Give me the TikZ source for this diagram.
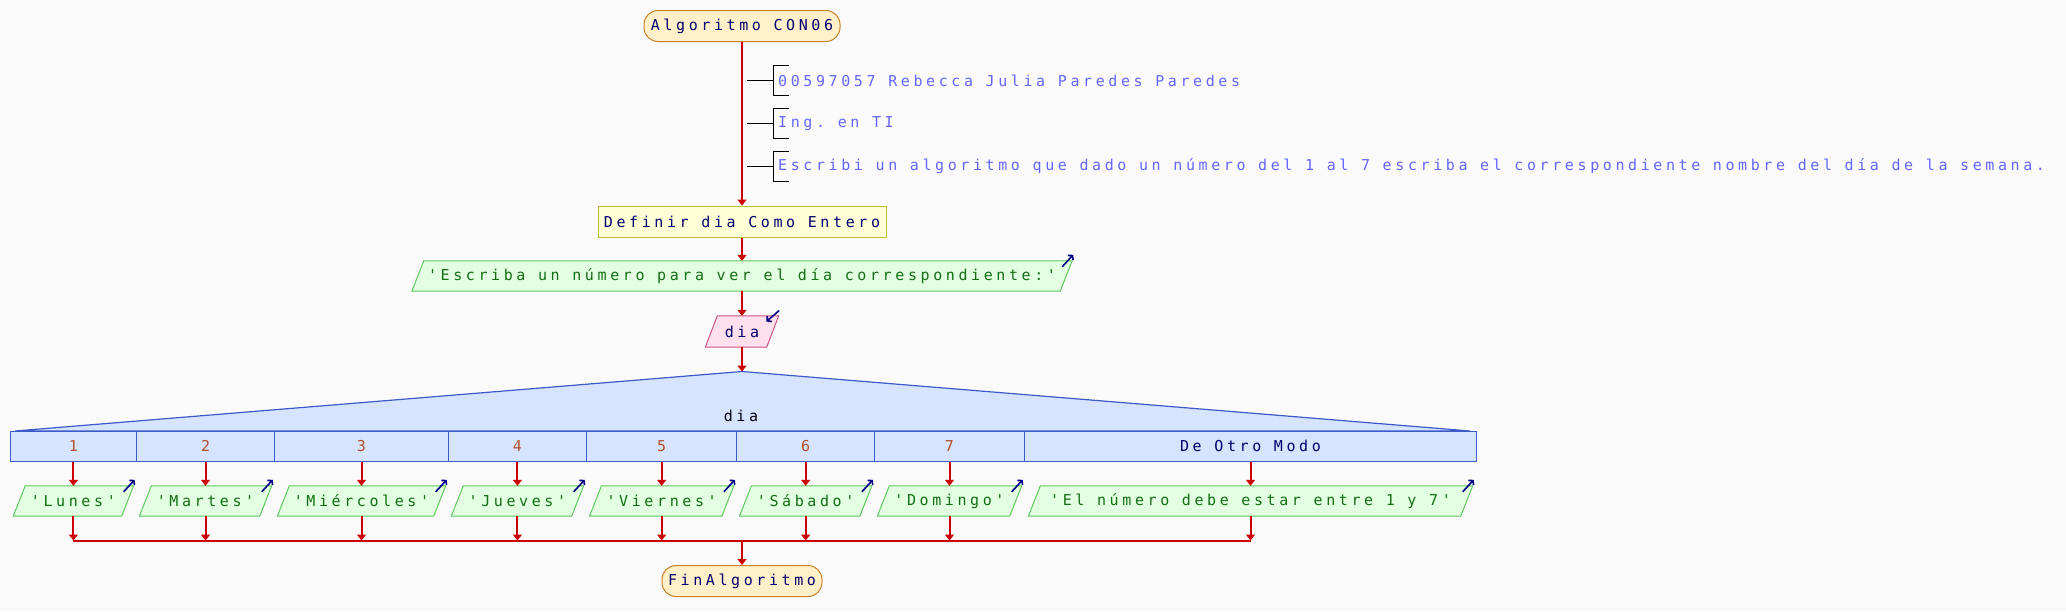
\documentclass[tikz,border=0pt]{standalone}
\usepackage{fontspec}
\setmonofont{DejaVu Sans Mono}[LetterSpace=24]
\usetikzlibrary{arrows.meta}
\pgfdeclarelayer{background}
\pgfsetlayers{background,main}
\definecolor{bgc}{RGB}{250,250,250}
\definecolor{termf}{RGB}{255,240,202}
\definecolor{termb}{RGB}{200,130,40}
\definecolor{procf}{RGB}{255,255,215}
\definecolor{procb}{RGB}{190,190,50}
\definecolor{outf}{RGB}{226,255,226}
\definecolor{outb}{RGB}{95,200,95}
\definecolor{inf}{RGB}{255,224,236}
\definecolor{inb}{RGB}{205,85,135}
\definecolor{swf}{RGB}{214,228,255}
\definecolor{swb}{RGB}{60,90,200}
\definecolor{flowred}{RGB}{204,0,0}
\definecolor{navytext}{RGB}{0,0,110}
\definecolor{navyarrow}{RGB}{0,0,128}
\definecolor{outtext}{RGB}{20,110,20}
\definecolor{casenum}{RGB}{180,80,40}
\definecolor{commc}{RGB}{102,102,255}
\newcommand\drawpgram[3]{%
  \begin{pgfonlayer}{background}
  \draw[line width=1pt, draw=#3, fill=#2]
    ([xshift=6pt]#1.north west) -- ([xshift=6pt]#1.north east)
    -- ([xshift=-6pt]#1.south east) -- ([xshift=-6pt]#1.south west) -- cycle;
  \end{pgfonlayer}}
\newcommand\outind[1]{%
  \draw[ioarrow] ([xshift=-4pt,yshift=-6pt]#1.north east) -- ([xshift=7pt,yshift=6pt]#1.north east);}
\newcommand\commbracket[1]{%
  \draw[bracket] ([xshift=-31pt]#1.west) -- ([xshift=-5pt]#1.west);
  \draw[bracket] ([xshift=11pt,yshift=15pt]#1.west) -- ([xshift=-5pt,yshift=15pt]#1.west)
    -- ([xshift=-5pt,yshift=-15pt]#1.west) -- ([xshift=11pt,yshift=-15pt]#1.west);}
\tikzset{
  every node/.style={font=\ttfamily\fontsize{15}{18}\selectfont, inner sep=0pt},
  termbox/.style={draw=termb, fill=termf, line width=1pt, rounded corners=14pt, minimum height=31pt, text=navytext},
  procbox/.style={draw=procb, fill=procf, line width=1pt, minimum height=31pt, text=navytext},
  iobox/.style={minimum height=30pt, text=outtext},
  inbox/.style={minimum height=31pt, text=navytext},
  casecell/.style={draw=swb, fill=swf, line width=1pt, minimum height=30pt, text=casenum},
  flow/.style={draw=flowred, line width=2pt, -{Triangle[width=9pt,length=6pt]}},
  flowline/.style={draw=flowred, line width=2pt},
  ioarrow/.style={draw=navyarrow, line width=1.6pt, -{Straight Barb[length=3pt,width=7pt]}},
  commtext/.style={text=commc, anchor=west},
  bracket/.style={draw=black, line width=1pt},
}
\begin{document}
\begin{tikzpicture}[x=1pt,y=-1pt]
\begin{pgfonlayer}{background}
\fill[bgc] (0,0) rectangle (2066,611);
\end{pgfonlayer}
\useasboundingbox (0,0) rectangle (2066,611);

% start
\node[termbox, minimum width=196pt] (start) at (742,26) {Algoritmo CON06};
% comments
\node[commtext] (c1) at (778,80.5) {00597057 Rebecca Julia Paredes Paredes};
\node[commtext] (c2) at (778,123.5) {Ing. en TI};
\node[commtext] (c3) at (778,166.5) {Escribi un algoritmo que dado un número del 1 al 7 escriba el correspondiente nombre del día de la semana.};
\commbracket{c1}
\commbracket{c2}
\commbracket{c3}
% define
\node[procbox, minimum width=288pt] (def) at (742,221.5) {Definir dia Como Entero};
% output
\node[iobox, minimum width=648pt] (o0) at (742,276) {'Escriba un número para ver el día correspondiente:'};
\drawpgram{o0}{outf}{outb}
\outind{o0}
% input
\node[inbox, minimum width=61pt] (inp) at (742,331.5) {dia};
\drawpgram{inp}{inf}{inb}
\draw[ioarrow] ([xshift=6.5pt,yshift=5.3pt]inp.north east) -- ([xshift=-6.3pt,yshift=-5.7pt]inp.north east);
% switch
\coordinate (apex) at (742,371.5);
\draw[fill=swf, draw=swb, line width=1.2pt] (apex) -- (15,431) -- (1470,431) -- cycle;
\node[text=black] (swl) at (741,416) {dia};
\node[casecell, minimum width=126pt] (k1) at (73.4,446) {1};
\node[casecell, minimum width=138.3pt] (k2) at (205.55,446) {2};
\node[casecell, minimum width=173.6pt] (k3) at (361.5,446) {3};
\node[casecell, minimum width=138.3pt] (k4) at (517.45,446) {4};
\node[casecell, minimum width=150.1pt] (k5) at (661.65,446) {5};
\node[casecell, minimum width=137.9pt] (k6) at (805.65,446) {6};
\node[casecell, minimum width=149.8pt] (k7) at (949.5,446) {7};
\node[casecell, minimum width=452.2pt, text=navytext] (k8) at (1250.5,446) {De Otro Modo};
% case outputs
\node[iobox, minimum width=108pt] (b1) at (73.4,501) {'Lunes'};
\node[iobox, minimum width=120pt] (b2) at (205.55,501) {'Martes'};
\node[iobox, minimum width=156pt] (b3) at (361.5,501) {'Miércoles'};
\node[iobox, minimum width=120pt] (b4) at (517.45,501) {'Jueves'};
\node[iobox, minimum width=132pt] (b5) at (661.65,501) {'Viernes'};
\node[iobox, minimum width=120pt] (b6) at (805.65,501) {'Sábado'};
\node[iobox, minimum width=132pt] (b7) at (949.5,501) {'Domingo'};
\node[iobox, minimum width=432pt] (b8) at (1250.5,501) {'El número debe estar entre 1 y 7'};
\foreach \i in {1,...,8}{\drawpgram{b\i}{outf}{outb}\outind{b\i}}
% join coordinates
\coordinate (j1) at (73.4,540.5);
\coordinate (j2) at (205.55,540.5);
\coordinate (j3) at (361.5,540.5);
\coordinate (j4) at (517.45,540.5);
\coordinate (j5) at (661.65,540.5);
\coordinate (j6) at (805.65,540.5);
\coordinate (j7) at (949.5,540.5);
\coordinate (j8) at (1250.5,540.5);
\coordinate (jm) at (742,540.5);
% end
\node[termbox, minimum width=160pt] (fin) at (742,581) {FinAlgoritmo};
% connectors
\draw[flow] (start.south) -- (def.north);
\draw[flow] (def.south) -- (o0.north);
\draw[flow] (o0.south) -- (inp.north);
\draw[flow] (inp.south) -- (apex);
\foreach \i in {1,...,8}{
  \draw[flow] (k\i.south) -- (b\i.north);
  \draw[flow] (b\i.south) -- (j\i);
}
\draw[flowline] (j1) -- (j8);
\draw[flow] (jm) -- (fin.north);
\end{tikzpicture}
\end{document}
